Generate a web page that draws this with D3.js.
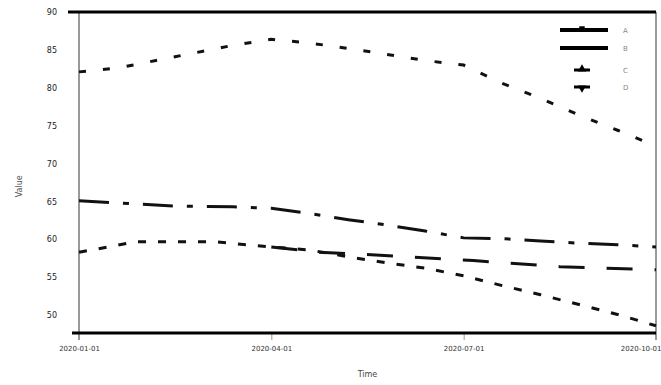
<!DOCTYPE html>
<html>
<head>
<meta charset="utf-8">
<script src="https://cdn.jsdelivr.net/npm/d3@7"></script>
<style>
  body { margin: 0; background: #fff; }
  text { font-family: "DejaVu Sans", sans-serif; }
</style>
</head>
<body>
<svg id="chart" width="661" height="385"></svg>
<script>
// x positions are sample indices, the axis shows date labels
const xTickValues = [0, 10, 20, 30]
const xTickLabels = ['2020-01-01', '2020-04-01', '2020-07-01', '2020-10-01']
const yTickValues = [50, 55, 60, 65, 70, 75, 80, 85, 90]

const seriesNames = ['A', 'B', 'C', 'D']

const xA = [0, 2, 4, 6, 8, 10, 12, 14, 16, 18, 20, 22, 24, 26, 28, 30]
const valuesA = [82.1, 82.6, 83.6, 84.6, 85.6, 86.4, 85.9, 85.2, 84.4, 83.6, 83.0, 80.6, 78.6, 76.4, 74.4, 72.3]

const xB = [0, 5, 8, 10, 12, 14, 16, 18, 20, 22, 24, 26, 28, 30]
const valuesB = [65.1, 64.4, 64.3, 64.1, 63.4, 62.6, 61.9, 61.1, 60.2, 60.1, 59.8, 59.5, 59.3, 59.0]

const xC = [0, 3, 7, 10, 12, 14, 16, 18, 20, 22, 24, 26, 28, 30]
const valuesC = [58.3, 59.7, 59.7, 59.0, 58.6, 57.7, 56.9, 56.2, 55.2, 53.9, 52.7, 51.4, 50.1, 48.6]

const xD = [10, 12.5, 16.5, 20.5, 25, 30]
const valuesD = [59.0, 58.3, 57.8, 57.2, 56.4, 56.0]

const margin = { top: 12, right: 5, bottom: 52, left: 79 }
const width = 661
const height = 385
const w = width - margin.left - margin.right
const h = height - margin.top - margin.bottom

const svg = d3.select('#chart')
const g = svg.append('g').attr('transform', 'translate(' + margin.left + ',' + margin.top + ')')

const x = d3.scaleLinear().domain([0, 30]).range([0, w])
const y = d3.scaleLinear().domain([47.65, 90]).range([h, 0])

// axes
const xAxis = g.append('g')
  .attr('transform', 'translate(0,' + h + ')')
  .call(d3.axisBottom(x).tickValues(xTickValues).tickSize(7).tickPadding(6)
    .tickFormat((d, i) => xTickLabels[i]))
xAxis.select('.domain').remove()
xAxis.selectAll('line').attr('stroke', '#999')
xAxis.selectAll('text').attr('font-size', 7).attr('fill', '#333')
// keep the last label inside the picture
xAxis.selectAll('text').filter((d) => d === 30).attr('text-anchor', 'end').attr('dx', 5)

const yAxis = g.append('g')
  .call(d3.axisLeft(y).tickValues(yTickValues).tickSize(0).tickPadding(22))
yAxis.select('.domain').remove()
yAxis.selectAll('text').attr('font-size', 8).attr('fill', '#222')

// frame
g.append('line').attr('x1', 0).attr('x2', 0).attr('y1', 0).attr('y2', h + 7)
  .attr('stroke', '#999').attr('stroke-width', 2)
g.append('line').attr('x1', w).attr('x2', w).attr('y1', 0).attr('y2', h + 7)
  .attr('stroke', '#999').attr('stroke-width', 2)
g.append('line').attr('x1', -11).attr('x2', w).attr('y1', 0).attr('y2', 0)
  .attr('stroke', '#000').attr('stroke-width', 3)
g.append('line').attr('x1', -7).attr('x2', w).attr('y1', h).attr('y2', h)
  .attr('stroke', '#000').attr('stroke-width', 3)

// axis titles
svg.append('text')
  .attr('transform', 'translate(22,' + (margin.top + y(67)) + ') rotate(-90)')
  .attr('text-anchor', 'middle')
  .attr('font-size', 8)
  .attr('fill', '#555')
  .text('Value')
svg.append('text')
  .attr('x', margin.left + w / 2)
  .attr('y', 377)
  .attr('text-anchor', 'middle')
  .attr('font-size', 8)
  .attr('fill', '#444')
  .text('Time')

const line = d3.line().x((d) => x(d[0])).y((d) => y(d[1]))

const series = [
  { xs: xA, vs: valuesA, dash: '7,17', width: 3 },
  { xs: xB, vs: valuesB, dash: '30,14,6,14', width: 3 },
  { xs: xC, vs: valuesC, dash: '8,12', width: 3 },
  { xs: xD, vs: valuesD, dash: '26,22', width: 3 },
]

series.forEach((s) => {
  g.append('path')
    .datum(d3.zip(s.xs, s.vs))
    .attr('fill', 'none')
    .attr('stroke', '#111')
    .attr('stroke-width', s.width)
    .attr('stroke-dasharray', s.dash)
    .attr('d', line)
})

// legend
const legend = svg.append('g').attr('transform', 'translate(560,30)')
const legendRows = [
  { dy: 0, kind: 'line', marker: d3.symbolSquare },
  { dy: 18, kind: 'line', marker: null },
  { dy: 40, kind: 'mark', marker: d3.symbolTriangle },
  { dy: 57, kind: 'mark', marker: d3.symbolTriangle, flip: true },
]
legendRows.forEach((r, i) => {
  const row = legend.append('g').attr('transform', 'translate(0,' + r.dy + ')')
  if (r.kind === 'line') {
    row.append('line').attr('x1', 0).attr('x2', 48).attr('y1', 0).attr('y2', 0)
      .attr('stroke', '#000').attr('stroke-width', 4)
  } else {
    row.append('line').attr('x1', 14).attr('x2', 30).attr('y1', 0).attr('y2', 0)
      .attr('stroke', '#000').attr('stroke-width', 3)
  }
  if (r.marker) {
    row.append('path')
      .attr('d', d3.symbol().type(r.marker).size(30))
      .attr('transform', 'translate(22,' + (r.flip ? 1 : -1) + ')' + (r.flip ? ' rotate(180)' : ''))
      .attr('fill', '#000')
  }
  row.append('text')
    .attr('x', 63)
    .attr('y', 3)
    .attr('font-size', 7)
    .attr('fill', '#888')
    .text(seriesNames[i])
})
</script>
</body>
</html>
